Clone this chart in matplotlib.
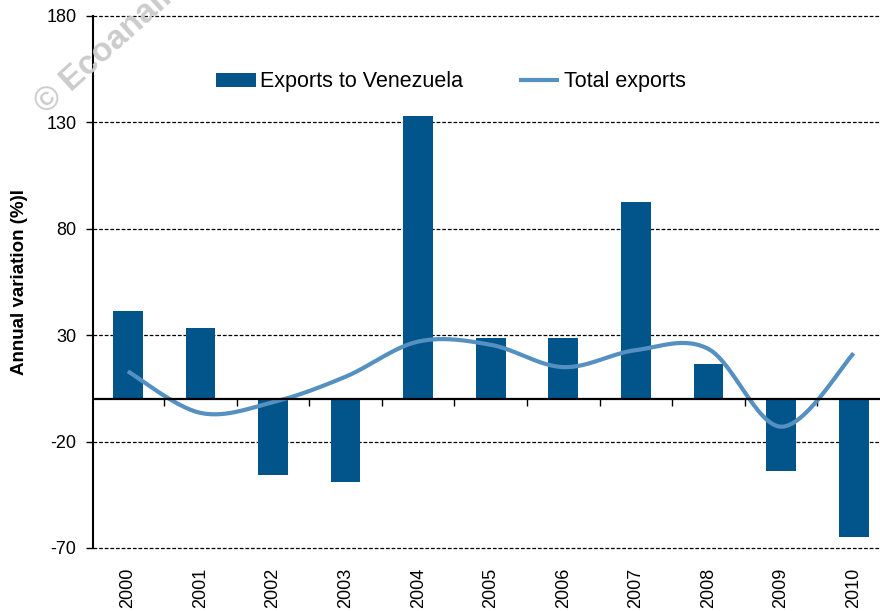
import numpy as np
import matplotlib.pyplot as plt

years = ['2000', '2001', '2002', '2003', '2004', '2005',
         '2006', '2007', '2008', '2009', '2010']
exports_venezuela = [41.5, 33.5, -35.5, -39.0, 133.0, 28.5,
                     28.5, 92.5, 16.5, -34.0, -65.0]
total_exports = [13.0, -6.5, -1.5, 10.5, 27.0, 25.5,
                 15.0, 23.0, 23.5, -13.0, 21.5]
y_ticks = [-70, -20, 30, 80, 130, 180]

BAR_COLOR = '#02558B'
LINE_COLOR = '#5590C0'

plt.rcParams['font.family'] = ['Liberation Sans', 'DejaVu Sans']


def smooth_line(xs, ys, steps=30):
    # Excel style smoothed line: cubic bezier with catmull-rom tangents
    xs = np.asarray(xs, float)
    ys = np.asarray(ys, float)
    n = len(xs)
    px, py = [], []
    for i in range(n - 1):
        i0, i3 = max(i - 1, 0), min(i + 2, n - 1)
        p0 = np.array([xs[i], ys[i]])
        p3 = np.array([xs[i + 1], ys[i + 1]])
        c1 = p0 + (p3 - np.array([xs[i0], ys[i0]])) / 6
        c2 = p3 - (np.array([xs[i3], ys[i3]]) - p0) / 6
        t = np.linspace(0, 1, steps)[:, None]
        pts = ((1 - t) ** 3) * p0 + 3 * ((1 - t) ** 2) * t * c1 \
            + 3 * (1 - t) * t ** 2 * c2 + t ** 3 * p3
        px.extend(pts[:, 0])
        py.extend(pts[:, 1])
    return px, py


fig = plt.figure(figsize=(8.8, 6.11), dpi=100)
ax = fig.add_axes([93 / 880, 1 - 548 / 611, 797 / 880, 532 / 611])

x = np.arange(len(years))
bars = ax.bar(x, exports_venezuela, width=0.41, color=BAR_COLOR,
              label='Exports to Venezuela', zorder=3)
sx, sy = smooth_line(x, total_exports)
line, = ax.plot(sx, sy, color=LINE_COLOR, lw=3, solid_capstyle='butt',
                label='Total exports', zorder=4)

ax.set_xlim(-0.48, 10.5)
ax.set_ylim(-70, 180)
ax.set_yticks(y_ticks)
ax.set_yticklabels([str(v) for v in y_ticks], fontsize=13)
# dashed gridlines, drawn unclipped so the top and bottom ones show fully
for v in y_ticks:
    ax.axhline(v, color='black', linestyle=(0, (3, 1.5)), lw=0.9,
               clip_on=False, zorder=1)
ax.axhline(0, color='black', lw=1.6, zorder=5)

for side in ['top', 'right', 'bottom']:
    ax.spines[side].set_visible(False)
ax.spines['left'].set_linewidth(1.5)
ax.tick_params(axis='y', length=5, width=1, pad=7)

# year labels under the plot, tick marks on the zero line between years
ax.set_xticks(x)
ax.set_xticklabels(years, rotation=90, fontsize=13)
ax.tick_params(axis='x', length=0, pad=14)
zero_axis = ax.secondary_xaxis(70 / 250)
zero_axis.set_xticks(np.arange(0.5, len(years) - 1, 1.0))
zero_axis.set_xticklabels([])
zero_axis.tick_params(length=5, width=1, direction='out')
zero_axis.spines['bottom'].set_visible(False)

ax.set_ylabel('Annual variation (%)l', fontsize=13.5, fontweight='bold')
ax.yaxis.set_label_coords(-0.081, 0.50)

ax.legend([bars, line], ['Exports to Venezuela', 'Total exports'],
          loc='center', bbox_to_anchor=(0.449, 0.876), ncol=2,
          frameon=False, fontsize=15.5, handlelength=1.85, handleheight=0.58,
          handletextpad=0.2, columnspacing=2.6, borderpad=0)

fig.text(0.046, 0.822, '\u00a9 Ecoanal\u00edtica', rotation=42,
         rotation_mode='anchor', ha='left', va='center', fontsize=24,
         fontweight='bold', color='#CCCCCC', zorder=0)

fig.savefig('out.png', dpi=100)
